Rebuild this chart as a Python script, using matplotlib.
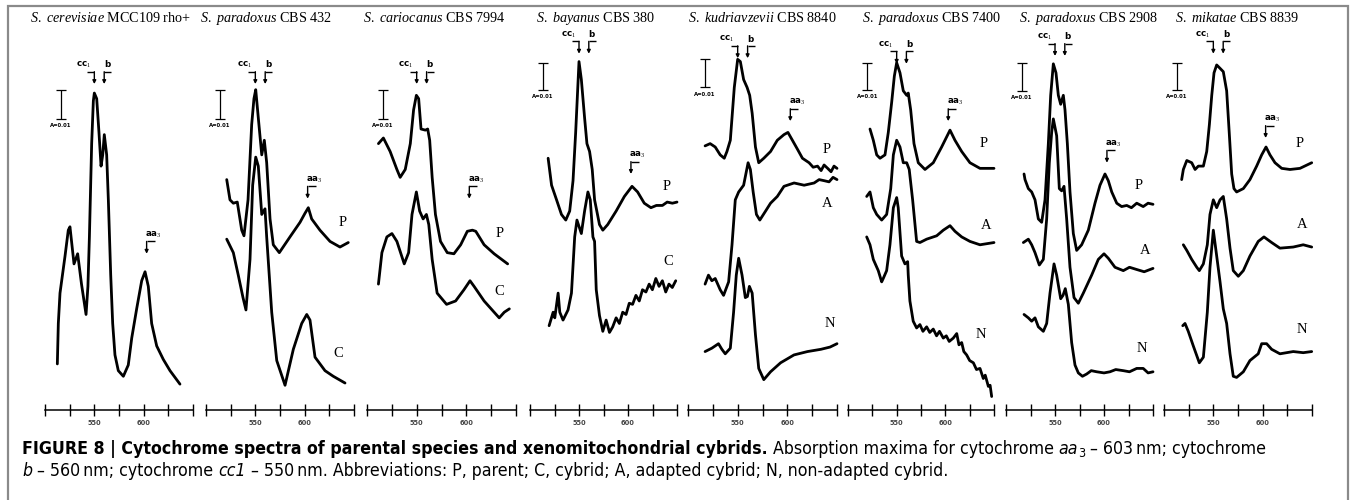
import matplotlib
matplotlib.use("Agg")
import matplotlib.pyplot as plt
from matplotlib import font_manager
from matplotlib.patches import Rectangle

# ------------------------------------------------------------------ data
species = ["S. cerevisiae", "S. paradoxus", "S. cariocanus", "S. bayanus",
           "S. kudriavzevii", "S. paradoxus", "S. paradoxus", "S. mikatae"]
strains = ["MCC109 rho+", "CBS 432", "CBS 7994", "CBS 380",
           "CBS 8840", "CBS 7400", "CBS 2908", "CBS 8839"]
tick_nm = [500, 525, 550, 575, 600, 625, 650]
tick_text = ["", "", "550", "", "600", "", ""]
peak_cc1, peak_b, peak_aa3 = 550, 560, 603

# relative absorbance (arbitrary units, scale bar A=0.01 ~ 25 units)
cer_P_nm = [512.5, 513.5, 515.2, 516.9, 520.3, 523.6, 525.3, 529.4, 533.1, 537.0, 541.6,
            543.5, 545.0, 547.3, 549.0, 550.0, 552.4, 554.7, 556.8, 558.5, 560.1, 562.5,
            564.2, 566.6, 568.6, 570.9, 574.3, 579.4, 584.4, 587.9, 592.9, 598.0, 601.4,
            604.7, 608.1, 613.2, 619.9, 626.7, 636.8]
cer_P_abs = [41, 77, 104, 115, 137, 160, 163, 130, 139, 112, 85,
             110, 154, 237, 275, 282, 277, 247, 217, 227, 245, 227,
             187, 120, 77, 49, 35, 30, 40, 64, 90, 115, 123,
             110, 77, 57, 45, 35, 23]

p432_P_nm = [521.0, 524.3, 527.7, 531.7, 536.2, 538.5, 542.6, 546.3, 548.6, 550.4, 553.0,
             556.5, 559.1, 561.5, 564.9, 568.2, 574.3, 585.1, 595.3, 600.3, 603.7, 607.1,
             615.5, 625.7, 635.8, 644.2]
p432_P_abs = [205, 187, 184, 185, 160, 155, 187, 254, 277, 285, 260,
              227, 240, 220, 170, 147, 140, 154, 167, 175, 180, 170,
              160, 150, 145, 149]
p432_C_nm = [521.0, 527.7, 532.7, 537.5, 540.5, 544.6, 547.3, 550.4, 553.0, 556.5, 559.8,
             561.5, 566.6, 571.7, 580.1, 588.5, 597.0, 602.1, 605.4, 610.5, 620.6, 629.0, 640.9]
p432_C_abs = [152, 140, 120, 100, 89, 134, 200, 225, 217, 174, 179,
              154, 87, 44, 22, 54, 77, 85, 80, 47, 35, 30, 24]

car_P_nm = [511.5, 516.5, 523.3, 530.1, 533.4, 538.5, 543.6, 546.9, 549.7, 552.0, 554.4,
            558.8, 561.1, 563.1, 565.6, 568.9, 574.0, 580.8, 587.5, 594.3, 601.0, 606.1,
            609.5, 617.9, 628.0, 641.6]
car_P_abs = [237, 242, 230, 214, 207, 214, 237, 267, 280, 277, 250,
             249, 250, 240, 207, 174, 150, 140, 139, 147, 159, 160,
             159, 147, 139, 130]
car_C_nm = [511.5, 515.0, 520.0, 525.1, 530.1, 537.5, 541.9, 545.3, 549.7, 553.0, 556.5,
            559.8, 562.2, 565.6, 570.6, 580.1, 589.2, 597.6, 603.7, 607.8, 617.9, 628.0,
            633.1, 638.2, 643.3]
car_C_abs = [112, 140, 154, 157, 150, 130, 140, 174, 194, 177, 170,
             174, 165, 134, 104, 94, 97, 107, 115, 110, 97, 87,
             82, 87, 90]

bay_P_nm = [518.5, 522.0, 527.1, 532.1, 536.5, 540.5, 543.9, 546.6, 550.0, 552.4, 555.7,
            558.1, 560.8, 563.5, 565.9, 570.9, 574.3, 579.3, 587.9, 596.3, 604.1, 609.8,
            616.6, 623.4, 629.0, 635.1, 640.0, 645.3, 650.0]
bay_P_abs = [224, 200, 187, 174, 169, 177, 204, 247, 310, 294, 260,
             237, 230, 214, 187, 165, 160, 165, 177, 190, 199, 194,
             184, 180, 182, 182, 185, 184, 185]
bay_C_nm = [519.5, 523.6, 525.3, 528.7, 530.4, 533.7, 538.8, 542.3, 545.6, 547.9,
            552.4, 555.7, 559.1, 561.5, 564.2, 565.9, 567.6, 570.9, 574.3, 577.7,
            581.1, 584.4, 587.9, 591.2, 594.6, 598.0, 601.3, 604.7, 608.1, 611.5,
            614.8, 618.3, 621.6, 624.9, 628.4, 631.7, 635.1, 638.5, 641.8, 645.2, 648.7]
bay_C_abs = [75, 87, 82, 104, 87, 80, 89, 104, 154, 169,
             157, 177, 194, 187, 154, 150, 107, 84, 70, 80,
             69, 74, 82, 77, 87, 85, 95, 94, 102, 97,
             107, 105, 112, 107, 117, 110, 115, 105, 112, 109, 115]

kud_P_nm = [517.2, 522.3, 527.4, 532.4, 536.5, 539.2, 542.6, 544.3, 546.6, 550.0,
            552.7, 556.0, 559.5, 562.1, 564.6, 567.9, 571.2, 576.3, 583.1, 589.9,
            596.6, 600.6, 605.1, 610.2, 615.2, 621.9, 626.0, 630.4, 634.0, 637.0,
            640.6, 644.0, 647.0, 650.0]
kud_P_abs = [235, 237, 234, 227, 224, 230, 240, 260, 287, 312,
             310, 294, 287, 280, 264, 234, 220, 224, 230, 240,
             245, 247, 240, 232, 224, 220, 216, 217, 213, 218,
             215, 212, 217, 215]
kud_A_nm = [517.2, 520.6, 524.0, 527.4, 532.4, 535.8, 540.9, 544.3, 547.6, 551.0,
            556.0, 560.5, 562.8, 565.6, 568.9, 572.3, 578.1, 583.1, 589.9, 596.6,
            606.8, 616.9, 627.0, 632.0, 637.2, 642.0, 646.0, 650.0]
kud_A_abs = [112, 120, 115, 117, 107, 102, 114, 147, 187, 194,
             200, 220, 214, 194, 174, 169, 177, 184, 190, 199,
             202, 200, 202, 205, 204, 203, 207, 205]
kud_N_nm = [517.2, 524.0, 530.7, 534.1, 537.5, 542.6, 545.9, 548.6, 551.0, 554.4,
            557.7, 559.8, 561.8, 564.6, 567.9, 571.2, 576.3, 583.1, 593.2, 606.7,
            620.3, 633.8, 643.0, 650.0]
kud_N_abs = [52, 55, 59, 54, 50, 55, 87, 120, 135, 120,
             100, 101, 110, 104, 67, 37, 27, 34, 42, 49,
             52, 54, 56, 59]

p7400_P_nm = [522.6, 526.0, 529.5, 532.9, 538.0, 541.4, 544.9, 547.6, 550.0, 553.4,
              556.8, 560.3, 561.9, 564.4, 567.8, 572.2, 579.1, 587.6, 596.2, 604.8,
              609.9, 616.8, 625.3, 635.6, 650.0]
p7400_P_abs = [250, 240, 227, 224, 227, 247, 274, 297, 309, 300,
               284, 280, 282, 267, 237, 220, 214, 220, 234, 249,
               240, 230, 220, 215, 215]
p7400_A_nm = [519.2, 522.6, 526.0, 529.5, 534.6, 539.7, 543.9, 546.6, 550.0, 553.4,
              556.8, 560.3, 562.9, 566.4, 570.5, 573.9, 580.8, 591.1, 597.9, 604.8,
              609.9, 616.8, 625.3, 635.6, 650.0]
p7400_A_abs = [190, 194, 180, 174, 169, 174, 197, 227, 240, 234,
               220, 220, 214, 187, 150, 149, 152, 155, 160, 164,
               159, 154, 150, 147, 149]
p7400_N_nm = [519.2, 522.6, 526.0, 531.1, 534.6, 536.2, 539.7, 543.1, 546.6, 550.0,
              551.6, 555.1, 558.5, 561.3, 561.9, 563.6, 567.0, 570.5, 573.9, 577.0,
              580.8, 584.0, 587.6, 591.0, 594.0, 597.9, 601.0, 604.0, 608.2, 611.7,
              614.0, 616.8, 619.0, 621.9, 625.0, 628.8, 632.0, 635.6, 639.0, 641.0,
              644.2, 646.0, 647.6]
p7400_N_abs = [154, 147, 134, 124, 114, 117, 124, 147, 180, 189,
               180, 137, 130, 132, 120, 97, 79, 73, 76, 70,
               74, 69, 72, 66, 70, 64, 66, 61, 64, 68,
               58, 60, 52, 49, 44, 42, 36, 37, 28, 31,
               21, 22, 12]

p2908_P_nm = [518.4, 519.4, 522.8, 526.2, 529.6, 533.0, 536.4, 539.8, 543.2, 545.6,
              548.3, 551.0, 553.4, 555.8, 558.5, 560.2, 562.6, 565.3, 568.7, 572.1,
              577.2, 584.0, 590.8, 595.9, 601.0, 604.4, 607.9, 613.0, 618.0, 623.2,
              628.0, 633.4, 640.0, 645.0, 650.0]
p2908_P_abs = [210, 205, 197, 194, 187, 170, 167, 187, 237, 280,
               308, 300, 280, 272, 280, 267, 237, 194, 157, 142,
               147, 160, 184, 200, 210, 204, 194, 184, 181, 182,
               180, 184, 181, 184, 183]
p2908_A_nm = [517.7, 522.8, 526.2, 529.6, 534.0, 538.1, 541.5, 544.2, 546.6, 548.3,
              551.7, 554.4, 556.8, 559.2, 561.9, 565.3, 569.4, 573.8, 578.9, 587.4,
              594.2, 600.0, 604.4, 611.2, 619.7, 626.0, 633.4, 641.0, 650.0]
p2908_A_abs = [149, 152, 147, 140, 129, 134, 170, 220, 247, 259,
               244, 197, 195, 199, 170, 127, 100, 95, 104, 120,
               134, 139, 135, 127, 124, 127, 125, 123, 126]
p2908_N_nm = [518.4, 522.8, 526.2, 529.6, 533.0, 538.1, 541.5, 544.9, 549.0, 551.7,
              555.8, 558.2, 560.5, 563.6, 567.0, 570.4, 573.8, 578.0, 582.3, 587.0,
              592.6, 600.0, 606.1, 612.0, 619.7, 626.0, 633.4, 640.0, 645.0, 650.0]
p2908_N_abs = [85, 82, 79, 82, 74, 70, 77, 104, 130, 120,
               99, 102, 108, 94, 60, 40, 33, 30, 32, 35,
               34, 33, 34, 36, 35, 34, 37, 37, 33, 34]

mik_P_nm = [517.9, 519.6, 523.1, 528.1, 531.5, 534.8, 539.9, 543.3, 546.0, 548.4,
            550.7, 553.4, 556.8, 560.1, 563.5, 566.1, 568.6, 570.9, 573.6, 580.4,
            587.1, 593.9, 599.0, 603.4, 607.4, 612.5, 619.3, 627.7, 637.8, 649.7]
mik_P_abs = [205, 214, 222, 220, 214, 217, 217, 230, 254, 280,
             300, 307, 304, 301, 284, 247, 210, 197, 194, 197,
             205, 217, 227, 234, 227, 220, 215, 214, 215, 220]
mik_A_nm = [519.6, 523.1, 528.1, 533.2, 535.8, 539.9, 543.9, 546.6, 550.0, 553.4,
            556.8, 560.1, 563.5, 566.9, 570.2, 575.3, 580.4, 587.1, 595.5, 601.3,
            609.1, 617.5, 631.0, 641.1, 649.7]
mik_A_abs = [147, 142, 134, 127, 124, 130, 147, 174, 187, 180,
             187, 190, 170, 144, 124, 119, 124, 137, 150, 154,
             149, 144, 145, 147, 145]
mik_N_nm = [519.0, 521.3, 524.6, 529.7, 535.8, 539.9, 543.9, 546.6, 550.0, 553.4,
            556.8, 560.1, 563.5, 566.9, 570.2, 573.6, 580.4, 587.1, 595.5, 599.0,
            604.0, 609.1, 617.5, 631.0, 641.1, 649.7]
mik_N_abs = [75, 77, 70, 57, 42, 47, 87, 127, 160, 137,
             114, 90, 77, 50, 30, 29, 34, 44, 50, 59,
             59, 54, 50, 52, 51, 52]

panel_curves = [
    [(cer_P_nm, cer_P_abs, None)],
    [(p432_P_nm, p432_P_abs, "P"), (p432_C_nm, p432_C_abs, "C")],
    [(car_P_nm, car_P_abs, "P"), (car_C_nm, car_C_abs, "C")],
    [(bay_P_nm, bay_P_abs, "P"), (bay_C_nm, bay_C_abs, "C")],
    [(kud_P_nm, kud_P_abs, "P"), (kud_A_nm, kud_A_abs, "A"), (kud_N_nm, kud_N_abs, "N")],
    [(p7400_P_nm, p7400_P_abs, "P"), (p7400_A_nm, p7400_A_abs, "A"), (p7400_N_nm, p7400_N_abs, "N")],
    [(p2908_P_nm, p2908_P_abs, "P"), (p2908_A_nm, p2908_A_abs, "A"), (p2908_N_nm, p2908_N_abs, "N")],
    [(mik_P_nm, mik_P_abs, "P"), (mik_A_nm, mik_A_abs, "A"), (mik_N_nm, mik_N_abs, "N")],
]

# ------------------------------------------------------------------ layout
W, H, DPI = 1355, 500, 100
AXIS_Y = 410          # pixel row of the wavelength scale line
AX_TOP = 20           # pixel row of the axes top
YMAX = 347            # data height shown in each panel
panel_x = [(45, 148), (206, 148), (367, 149), (530, 147),
           (688, 149), (848, 146), (1006, 147), (1164, 148)]
title_left = [30, 200, 363, 536, 688, 862, 1019, 1175]
# curve label positions (nm, height)
label_pos = [
    [None],
    [(639, 167), (634, 50)],
    [(634, 157), (633, 105)],
    [(639, 199), (641, 132)],
    [(640, 232), (640, 184), (643, 77)],
    [(639, 237), (642, 164), (637, 67)],
    [(635, 200), (642, 142), (639, 55)],
    [(638, 237), (640, 165), (640, 72)],
]
cc1_h = [307, 307, 307, 334, 330, 325, 332, 334]
aa3_h = [156, 205, 205, 227, 274, 274, 237, 259]
bar_x = [516, 514, 516, 513, 517, 520, 516, 513]
bar_lo = [259, 259, 259, 285, 287, 285, 284, 285]
bar_hi = [285, 285, 285, 309, 312, 309, 309, 309]

names = {f.name for f in font_manager.fontManager.ttflist}
SERIF = "Liberation Serif" if "Liberation Serif" in names else "DejaVu Serif"
if "Liberation Sans Narrow" in names:
    CAP_FONT, CAP_STRETCH = "Liberation Sans Narrow", "normal"
else:
    CAP_FONT, CAP_STRETCH = "DejaVu Sans", "condensed"

plt.rcParams["mathtext.fontset"] = "custom"
plt.rcParams["mathtext.it"] = SERIF + ":italic"
plt.rcParams["mathtext.rm"] = SERIF

fig = plt.figure(figsize=(W / DPI, H / DPI), dpi=DPI)
fig.patch.set_facecolor("white")

# outer frame
fig.add_artist(Rectangle((8 / W, -0.05), (1348 - 8) / W, 1.05 - 6 / H,
                         transform=fig.transFigure, fill=False,
                         edgecolor="#8a8a8a", lw=1.6))


def bracket(ax, wl, h, label, text_dx, hook):
    ax.text(wl + text_dx, h, label, ha="center", va="center", fontsize=6.3,
            fontweight="bold", family="DejaVu Sans")
    ax.plot([wl + hook, wl], [h - 6, h - 6], color="black", lw=1.0,
            solid_capstyle="butt", clip_on=False)
    ax.annotate("", xy=(wl, h - 17), xytext=(wl, h - 6),
                arrowprops=dict(arrowstyle="-|>", lw=1.0, color="black",
                                mutation_scale=5, shrinkA=0, shrinkB=0))


renderer = fig.canvas.get_renderer()

for i in range(8):
    x0, w = panel_x[i]
    ax = fig.add_axes([x0 / W, 1 - AXIS_Y / H, w / W, (AXIS_Y - AX_TOP) / H])
    ax.set_xlim(500, 650)
    ax.set_ylim(0, YMAX)
    ax.patch.set_visible(False)
    for s in ("top", "right", "left"):
        ax.spines[s].set_visible(False)
    ax.spines["bottom"].set_linewidth(1.1)
    ax.set_yticks([])
    ax.set_xticks(tick_nm)
    ax.set_xticklabels(tick_text, fontsize=4.8, fontweight="bold", color="#444444")
    ax.tick_params(axis="x", direction="inout", length=8, width=1.0, pad=3)

    for (nm, ab, lab), pos in zip(panel_curves[i], label_pos[i]):
        ax.plot(nm, ab, color="black", lw=2.0, solid_joinstyle="round",
                solid_capstyle="round", clip_on=False)
        if lab is not None:
            ax.text(pos[0], pos[1], lab, ha="center", va="center",
                    family=SERIF, fontsize=10.5)

    bracket(ax, peak_cc1, cc1_h[i], "cc$_1$", -11, -7)
    bracket(ax, peak_b, cc1_h[i], "b", 3, 7)
    bracket(ax, peak_aa3, aa3_h[i], "aa$_3$", 7, 8)

    ax.errorbar([bar_x[i]], [(bar_lo[i] + bar_hi[i]) / 2],
                yerr=[(bar_hi[i] - bar_lo[i]) / 2], fmt="none", ecolor="black",
                elinewidth=0.9, capsize=3.5, capthick=0.9)
    ax.text(bar_x[i], bar_lo[i] - 4, "A=0.01", ha="center", va="top",
            fontsize=3.8, fontweight="bold", family="DejaVu Sans")

    fig.text(title_left[i] / W, 1 - 22 / H,
             r"$\mathit{" + species[i].replace(" ", r"\ ") + "}$ " + strains[i],
             ha="left", va="baseline", family=SERIF, fontsize=10.2)

# ------------------------------------------------------------------ caption
line1 = [("FIGURE 8 | Cytochrome spectra of parental species and xenomitochondrial cybrids.", "bold", "normal", 0, 1.0),
         (" Absorption maxima for cytochrome ", "normal", "normal", 0, 1.0),
         ("aa", "normal", "italic", 0, 1.0),
         ("3", "normal", "normal", -3, 0.7),
         (" \u2013 603\u2009nm; cytochrome", "normal", "normal", 0, 1.0)]
line2 = [("b", "normal", "italic", 0, 1.0),
         (" \u2013 560\u2009nm; cytochrome ", "normal", "normal", 0, 1.0),
         ("cc1", "normal", "italic", 0, 1.0),
         (" \u2013 550\u2009nm. Abbreviations: P, parent; C, cybrid; A, adapted cybrid; N, non-adapted cybrid.",
          "normal", "normal", 0, 1.0)]


def chain(pieces, x_px, y_px, fs):
    x = x_px
    made = []
    for s, wt, st, dy, scale in pieces:
        t = fig.text(x / W, 1 - (y_px - dy) / H, s, ha="left", va="baseline",
                     family=[CAP_FONT, "DejaVu Sans"], fontstretch=CAP_STRETCH,
                     fontweight=wt, fontstyle=st, fontsize=fs * scale)
        made.append(t)
        x += t.get_window_extent(renderer).width
    return made, x - x_px


trial, width = chain(line1, 22, 454, 12)
for t in trial:
    t.remove()
fs = 12 * (1264 - 22) / width
chain(line1, 22, 454, fs)
chain(line2, 22, 476, fs)

fig.savefig("out.png", dpi=DPI)
